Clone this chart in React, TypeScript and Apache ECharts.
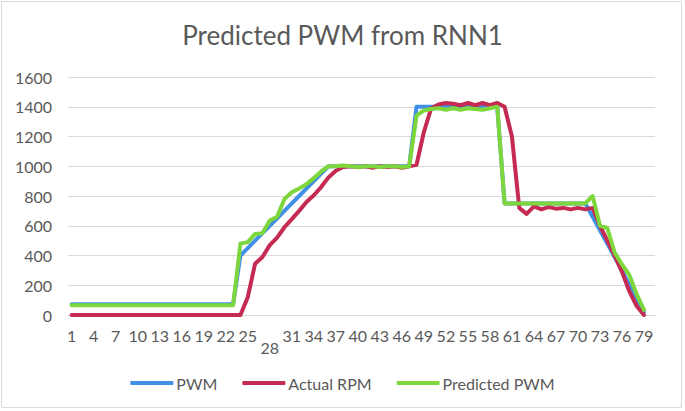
import React, { useEffect, useRef } from "react";
import * as echarts from "echarts";

const categories = [
  "1","2","3","4","5","6","7","8","9","10","11","12","13","14","15","16","17","18","19","20",
  "21","22","23","24","25","26","27","28","29","30","31","32","33","34","35","36","37","38","39","40",
  "41","42","43","44","45","46","47","48","49","50","51","52","53","54","55","56","57","58","59","60",
  "61","62","63","64","65","66","67","68","69","70","71","72","73","74","75","76","77","78","79","80",
];

const pwm = [
  72,72,72,72,72,72,72,72,72,72,72,72,72,72,72,72,72,72,72,72,72,72,72,
  400,450,500,550,600,650,700,750,800,850,900,950,1000,
  1000,1000,1000,1000,1000,1000,1000,1000,1000,1000,1000,
  1400,1400,1400,1400,1400,1400,1400,1400,1400,1400,1400,1400,
  750,750,750,750,750,750,750,750,750,750,750,750,
  660,570,480,390,300,200,100,20,
];

const actualRpm = [
  0,0,0,0,0,0,0,0,0,0,0,0,0,0,0,0,0,0,0,0,0,0,0,0,
  120,345,390,470,520,590,645,700,760,805,860,925,970,995,
  1000,995,1000,990,1000,995,1000,990,1000,
  1010,1230,1390,1415,1425,1420,1410,1425,1410,1425,1410,1425,1400,
  1200,720,680,730,710,725,715,720,710,720,710,720,
  600,500,400,290,160,60,0,
];

const predictedPwm = [
  65,65,65,65,65,65,65,65,65,65,65,65,65,65,65,65,65,65,65,65,65,65,65,
  480,490,545,550,635,660,780,825,850,880,920,965,1000,
  1000,1005,1000,995,1000,1000,995,1000,1000,995,1000,
  1340,1375,1385,1390,1380,1390,1380,1390,1385,1380,1390,1400,
  750,750,750,750,750,750,750,750,750,750,750,750,
  800,600,585,420,340,270,140,35,
];

const seriesNames = ["PWM", "Actual RPM", "Predicted PWM"];
const seriesColors = ["#4190E6", "#C52A52", "#7DD63C"];

const FONT = "Lato, 'Open Sans', sans-serif";
const TEXT = "#595959";

export default function App() {
  const ref = useRef<HTMLDivElement>(null);

  useEffect(() => {
    if (!ref.current) return;
    const chart = echarts.init(ref.current, undefined, { renderer: "svg" });
    const datas = [pwm, actualRpm, predictedPwm];
    chart.setOption({
      animation: false,
      backgroundColor: "#ffffff",
      title: {
        text: "Predicted PWM from RNN1",
        left: "center",
        top: 17,
        textStyle: { fontFamily: FONT, fontSize: 26, fontWeight: "normal", color: TEXT },
      },
      graphic: [
        {
          type: "rect",
          shape: { x: 1.5, y: 1.5, width: 680, height: 406 },
          style: { fill: "none", stroke: "#d9d9d9", lineWidth: 1 },
          silent: true,
        },
      ],
      legend: {
        data: seriesNames,
        left: "center",
        top: 370,
        icon: "roundRect",
        itemWidth: 43,
        itemHeight: 4,
        itemGap: 25,
        textStyle: { fontFamily: FONT, fontSize: 16, color: TEXT, padding: [0, 0, 0, -2] },
      },
      grid: { left: 68, right: 30, top: 77, bottom: 96, containLabel: false },
      xAxis: {
        type: "category",
        data: categories,
        boundaryGap: true,
        axisLine: { lineStyle: { color: "#d9d9d9", width: 1 } },
        axisTick: { show: false },
        axisLabel: {
          interval: 2,
          margin: 14,
          fontFamily: FONT,
          fontSize: 16,
          color: TEXT,
          lineHeight: 12,
          formatter: (v: string) => (v === "28" ? "\n28" : v),
        },
      },
      yAxis: {
        type: "value",
        min: 0,
        max: 1600,
        interval: 200,
        axisLine: { show: false },
        axisTick: { show: false },
        splitLine: { lineStyle: { color: "#d9d9d9", width: 1 } },
        axisLabel: {
          margin: 16,
          fontFamily: FONT,
          fontSize: 16,
          color: TEXT,
          formatter: (v: number) => String(v),
        },
      },
      series: seriesNames.map((name, i) => ({
        name,
        type: "line",
        data: datas[i],
        symbol: "none",
        showSymbol: false,
        color: seriesColors[i],
        lineStyle: { width: 4, color: seriesColors[i], cap: "round", join: "round" },
        z: 2 + i,
      })),
    });
    return () => chart.dispose();
  }, []);

  return (
    <div
      ref={ref}
      style={{ position: "absolute", left: 0, top: 0, width: 685, height: 411 }}
    />
  );
}
